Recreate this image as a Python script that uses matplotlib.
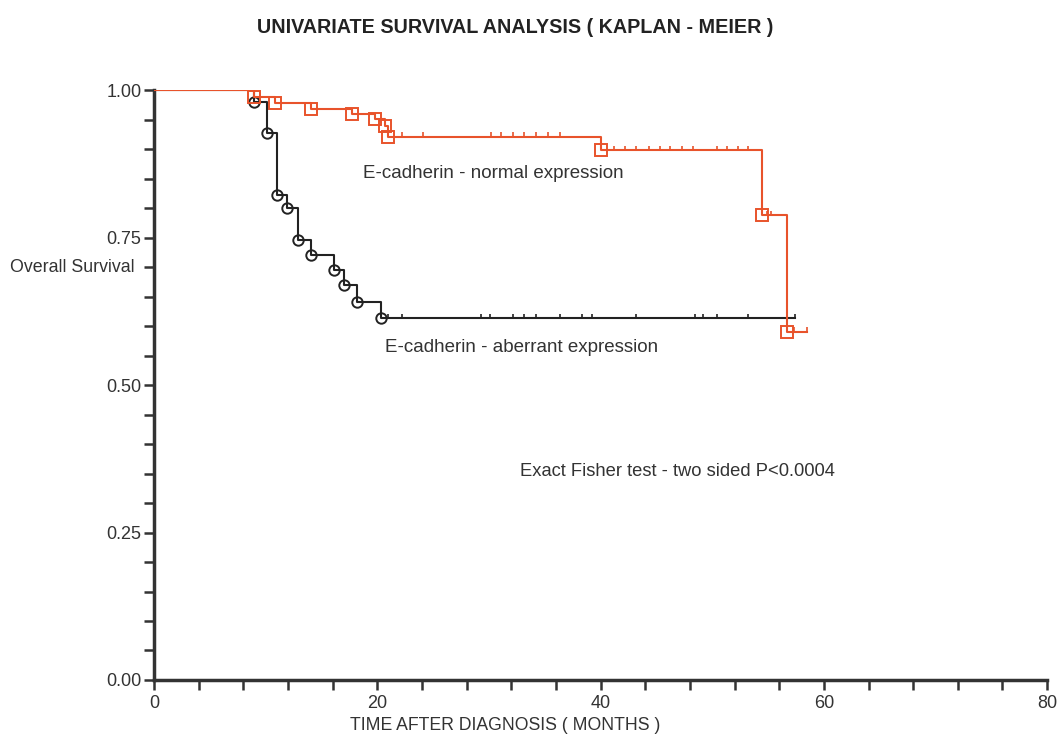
import numpy as np
import matplotlib
matplotlib.use('Agg')
from matplotlib import pyplot as plt
from matplotlib.ticker import MultipleLocator

plt.rcParams['font.family'] = ['Liberation Sans', 'DejaVu Sans']

# E-cadherin normal expression (orange): event times / survival after event
norm_t = [0, 9.0, 10.8, 14.1, 17.7, 19.8, 20.7, 21.0, 40.0, 54.5, 56.7]
norm_s = [1.0, 0.989, 0.979, 0.968, 0.960, 0.951, 0.939, 0.921, 0.898, 0.788, 0.590]
norm_end = 58.5
norm_cens_t = [22.2, 24.1, 30.2, 31.1, 32.2, 33.1, 34.2, 35.3, 36.4,
               41.2, 42.2, 43.2, 44.3, 45.3, 46.2, 47.3, 48.3, 50.4, 51.3, 52.3, 53.2,
               54.9, 55.3, 57.3, 58.5]

# E-cadherin aberrant expression (black)
abr_t = [0, 9.0, 10.1, 11.0, 11.9, 12.9, 14.1, 16.1, 17.0, 18.2, 20.3]
abr_s = [1.0, 0.980, 0.927, 0.822, 0.801, 0.746, 0.720, 0.695, 0.669, 0.641, 0.613]
abr_end = 57.4
abr_cens_t = [21.0, 22.2, 29.3, 30.1, 32.2, 33.1, 34.2, 36.4, 38.3, 39.2, 43.2,
              48.5, 49.2, 50.4, 53.2, 57.4]

orange = '#e8532b'

def level_at(t, times, surv):
    idx = np.searchsorted(times, t, side='right') - 1
    return np.array(surv)[idx]

fig = plt.figure(figsize=(10.62, 7.34), dpi=100)
ax = fig.add_axes([0.145, 0.0736, 0.841, 0.8034])

z = 3
for times, surv, end, cens, col, mk, ms in (
        (abr_t, abr_s, abr_end, abr_cens_t, '#222222', 'o', 7.5),
        (norm_t, norm_s, norm_end, norm_cens_t, orange, 's', 9)):
    tt = list(times) + [end]
    ss = list(surv) + [surv[-1]]
    ax.step(tt, ss, where='post', color=col, lw=1.5, zorder=z)
    ax.plot(times[1:], surv[1:], mk, mfc='none', mec=col, ms=ms, mew=1.4, zorder=z + 1)
    cl = level_at(np.array(cens), times, surv)
    ax.vlines(cens, cl, cl + 0.008, color=col, lw=1.2, zorder=z)
    z += 2

ax.text(18.7, 0.859, 'E-cadherin - normal expression', fontsize=13.5, va='center', color='#333333')
ax.text(20.7, 0.564, 'E-cadherin - aberrant expression', fontsize=13.5, va='center', color='#333333')
ax.text(32.8, 0.353, 'Exact Fisher test - two sided P<0.0004', fontsize=13.2, va='center', color='#333333')

ax.set_xlim(0, 80)
ax.set_ylim(0, 1)
ax.xaxis.set_major_locator(MultipleLocator(20))
ax.xaxis.set_minor_locator(MultipleLocator(4))
ax.yaxis.set_major_locator(MultipleLocator(0.25))
ax.yaxis.set_minor_locator(MultipleLocator(0.05))
ax.set_yticklabels(['%.2f' % v for v in ax.get_yticks()])
ax.tick_params(which='both', direction='out', length=7, width=1.8, color='#333333',
               labelsize=13, labelcolor='#333333')
ax.tick_params(axis='x', pad=4)
ax.tick_params(axis='y', pad=2)

for side in ('top', 'right'):
    ax.spines[side].set_visible(False)
for side in ('left', 'bottom'):
    ax.spines[side].set_linewidth(2.5)
    ax.spines[side].set_color('#333333')

fig.text(0.485, 0.962, 'UNIVARIATE SURVIVAL ANALYSIS ( KAPLAN - MEIER )', ha='center', va='center',
         fontsize=14.2, fontweight='bold', color='#222222')
fig.text(0.0094, 0.636, 'Overall Survival', ha='left', va='center', fontsize=12.8, color='#333333')
fig.text(0.476, 0.012, 'TIME AFTER DIAGNOSIS ( MONTHS )', ha='center', va='center', fontsize=12.7,
         color='#333333')

fig.savefig('out.png', dpi=100)
